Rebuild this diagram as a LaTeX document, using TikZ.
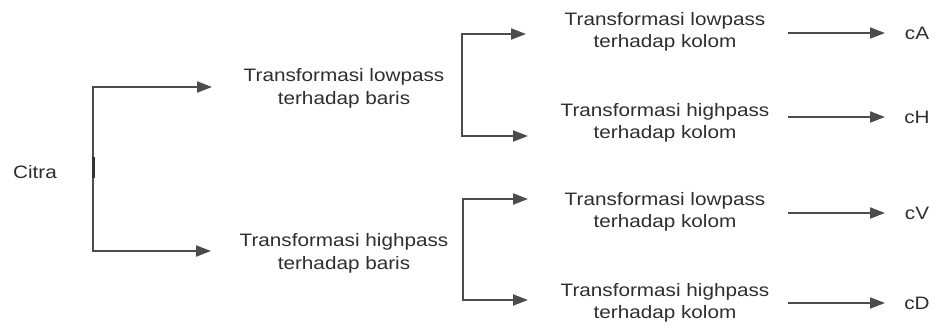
\documentclass[tikz,border=0pt]{standalone}
\usepackage{fontspec}
\setmainfont{Liberation Sans}[FakeStretch=1.15]
\usetikzlibrary{arrows.meta}
\begin{document}
\begin{tikzpicture}[x=1pt,y=-1pt,
  lbl/.style={font=\fontsize{18}{22.5}\selectfont, align=center, inner sep=0pt, text=black!82},
  conn/.style={draw=black!70, line width=2pt, -{Triangle[length=15pt,width=11pt]}}]
\useasboundingbox (0,0) rectangle (935,325);
% nodes
\node[lbl] (citra) at (35,172) {Citra};
\node[lbl] (b1) at (344,88.5) {Transformasi lowpass\\terhadap baris};
\node[lbl] (b2) at (344,253.5) {Transformasi highpass\\terhadap baris};
\node[lbl] (k1) at (665,32) {Transformasi lowpass\\terhadap kolom};
\node[lbl] (k2) at (665,123) {Transformasi highpass\\terhadap kolom};
\node[lbl] (k3) at (665,212) {Transformasi lowpass\\terhadap kolom};
\node[lbl] (k4) at (665,303) {Transformasi highpass\\terhadap kolom};
\node[lbl] (cA) at (917,33) {cA};
\node[lbl] (cH) at (917,117) {cH};
\node[lbl] (cV) at (917,213) {cV};
\node[lbl] (cD) at (917,303) {cD};
% junction / tip coordinates
\coordinate (j0) at (93,172);
\coordinate (t1) at (212,87);
\coordinate (t2) at (211,251);
\coordinate (j1) at (462,85);
\coordinate (t11) at (526,34);
\coordinate (t12) at (528,136);
\coordinate (j2) at (463,250);
\coordinate (t21) at (528,199);
\coordinate (t22) at (528,300);
\coordinate (s1) at (788,33);
\coordinate (s2) at (788,117);
\coordinate (s3) at (788,213);
\coordinate (s4) at (788,303);
% connectors
\draw[conn] (j0) |- (t1);
\draw[conn] (j0) |- (t2);
\draw[draw=black!80, line width=3pt] ([yshift=15pt]j0) -- ([yshift=-6pt]j0);
\draw[conn] (j1) |- (t11);
\draw[conn] (j1) |- (t12);
\draw[conn] (j2) |- (t21);
\draw[conn] (j2) |- (t22);
\draw[conn] (s1) -- ([xshift=-2pt]cA.west -| 887,0);
\draw[conn] (s2) -- ([xshift=-2pt]cH.west -| 887,0);
\draw[conn] (s3) -- ([xshift=-2pt]cV.west -| 887,0);
\draw[conn] (s4) -- ([xshift=-2pt]cD.west -| 887,0);
\end{tikzpicture}
\end{document}
